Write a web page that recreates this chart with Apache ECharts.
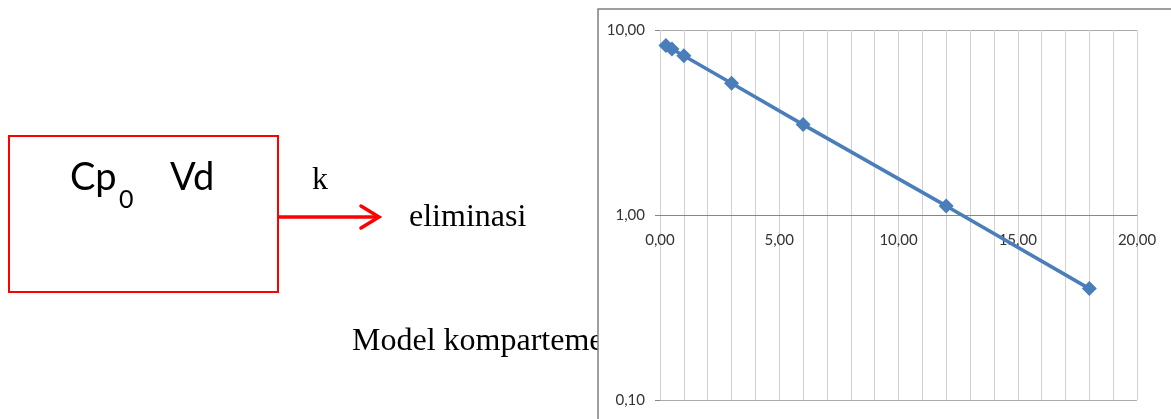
<!DOCTYPE html>
<html>
<head>
<meta charset="utf-8">
<script src="https://cdn.jsdelivr.net/npm/echarts@6/dist/echarts.min.js"></script>
<style>
  html, body { margin: 0; padding: 0; background: #ffffff; }
  #chart { width: 1171px; height: 419px; }
</style>
</head>
<body>
<div id="chart"></div>
<script>
// ---- data ----
const time = [0.25, 0.5, 1, 3, 6, 12, 18];
const conc = [8.25, 7.9, 7.25, 5.15, 3.08, 1.12, 0.40];
const xTickValues = [0, 5, 10, 15, 20];
const xTickLabels = ['0,00', '5,00', '10,00', '15,00', '20,00'];
const yTickValues = [0.1, 1, 10];
const yTickLabels = ['0,10', '1,00', '10,00'];
const boxText = ['Cp', '0', 'Vd'];
const arrowLabel = 'k';
const sinkLabel = 'eliminasi';
const captionText = 'Model kompartemen';

const chart = echarts.init(document.getElementById('chart'), null, { renderer: 'canvas' });

function lookup(vals, labels, v) {
  for (let i = 0; i < vals.length; i++) {
    if (Math.abs(vals[i] - v) < 1e-6 * Math.max(1, Math.abs(v))) return labels[i];
  }
  return '';
}

const serif = '"Liberation Serif", "Times New Roman", serif';
const sans = 'Lato, "Open Sans", sans-serif';

const option = {
  animation: false,
  backgroundColor: '#ffffff',
  grid: { left: 660, top: 30, right: 34, bottom: 19, containLabel: false },
  xAxis: {
    type: 'value', min: 0, max: 20, interval: 1, z: 5,
    position: 'bottom', offset: -185,
    axisLine: { show: true, lineStyle: { color: '#868686', width: 1 } },
    axisTick: { show: false },
    axisLabel: {
      interval: 0, margin: 18, color: '#333333', fontFamily: sans, fontSize: 15,
      formatter: v => lookup(xTickValues, xTickLabels, v)
    },
    splitLine: { show: true, lineStyle: { color: '#d2d2d2', width: 1 } }
  },
  yAxis: {
    type: 'log', logBase: 10, min: 0.1, max: 10, z: 5,
    axisLine: { show: false },
    axisTick: { show: true, length: 5, lineStyle: { color: '#868686' } },
    axisLabel: {
      margin: 15, color: '#333333', fontFamily: sans, fontSize: 15,
      formatter: v => lookup(yTickValues, yTickLabels, v)
    },
    splitLine: { show: true, lineStyle: { color: '#ababab', width: 1 } }
  },
  series: [{
    type: 'line', z: 10,
    data: time.map((t, i) => [t, conc[i]]),
    symbol: 'diamond', symbolSize: 15,
    lineStyle: { color: '#4a7ebb', width: 3.5 },
    itemStyle: { color: '#4a7ebb' },
    clip: false
  }],
  graphic: { elements: [
    // caption (partially hidden by chart panel)
    { type: 'text', z: 1, x: 352, y: 342,
      style: { text: captionText, font: '32px ' + serif, fill: '#000', textAlign: 'left', textVerticalAlign: 'middle', align: 'left', verticalAlign: 'middle' } },
    // chart panel
    { type: 'rect', z: 2, shape: { x: 598, y: 9, width: 600, height: 430 },
      style: { fill: '#ffffff', stroke: '#7f7f7f', lineWidth: 1.5 } },
    // compartment box
    { type: 'rect', z: 1, shape: { x: 9, y: 136, width: 269, height: 156 },
      style: { fill: 'none', stroke: '#ff0000', lineWidth: 2 } },
    { type: 'text', z: 1, x: 70, y: 178,
      style: { text: boxText[0], font: '38px ' + sans, fill: '#000', textAlign: 'left', textVerticalAlign: 'middle', align: 'left', verticalAlign: 'middle' } },
    { type: 'text', z: 1, x: 119, y: 200,
      style: { text: boxText[1], font: '25px ' + sans, fill: '#000', textAlign: 'left', textVerticalAlign: 'middle', align: 'left', verticalAlign: 'middle' } },
    { type: 'text', z: 1, x: 170, y: 178,
      style: { text: boxText[2], font: '38px ' + sans, fill: '#000', textAlign: 'left', textVerticalAlign: 'middle', align: 'left', verticalAlign: 'middle' } },
    // arrow
    { type: 'line', z: 1, shape: { x1: 278, y1: 217, x2: 378, y2: 217 },
      style: { stroke: '#ff0000', lineWidth: 3.5 } },
    { type: 'polyline', z: 1, shape: { points: [[361, 206], [379, 217], [361, 228]] },
      style: { stroke: '#ff0000', lineWidth: 3.5, fill: 'none', lineCap: 'round', lineJoin: 'miter' } },
    { type: 'text', z: 1, x: 312, y: 181,
      style: { text: arrowLabel, font: '32px ' + serif, fill: '#000', textAlign: 'left', textVerticalAlign: 'middle', align: 'left', verticalAlign: 'middle' } },
    { type: 'text', z: 1, x: 409, y: 218,
      style: { text: sinkLabel, font: '32px ' + serif, fill: '#000', textAlign: 'left', textVerticalAlign: 'middle', align: 'left', verticalAlign: 'middle' } }
  ] }
};
chart.setOption(option);
</script>
</body>
</html>
